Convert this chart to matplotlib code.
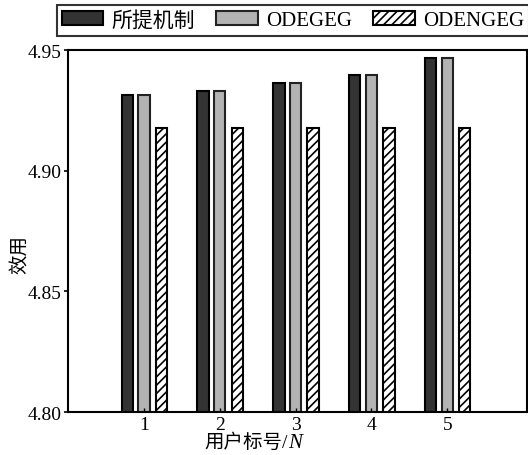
import numpy as np
import matplotlib
matplotlib.use("Agg")
import matplotlib.pyplot as plt

plt.rcParams['font.family'] = ['Liberation Serif', 'Noto Sans CJK SC']
plt.rcParams['hatch.linewidth'] = 1.2

users = [1, 2, 3, 4, 5]
proposed = [4.9315, 4.9329, 4.9364, 4.9398, 4.9466]
odegeg = [4.9315, 4.9329, 4.9364, 4.9398, 4.9466]
odengeg = [4.9176, 4.9176, 4.9176, 4.9176, 4.9176]
series_names = ['所提机制', 'ODEGEG', 'ODENGEG']

fig = plt.figure(figsize=(5.28, 4.56), dpi=100)
ax = fig.add_axes([0.129, 0.094, 0.869, 0.794])

x = np.array(users)
w = 0.15
ax.bar(x - 0.22, proposed, w, color='#333333', edgecolor='black', linewidth=1.5, label=series_names[0])
ax.bar(x, odegeg, w, color='#b3b3b3', edgecolor='#222222', linewidth=1.5, label=series_names[1])
ax.bar(x + 0.23, odengeg, w, color='white', edgecolor='black', linewidth=1.5, hatch='////', label=series_names[2])

ax.set_ylim(4.80, 4.95)
ax.set_xlim(0, 6.05)
ax.set_yticks([4.80, 4.85, 4.90, 4.95])
ax.set_yticklabels(['4.80', '4.85', '4.90', '4.95'])
ax.set_xticks(users)
ax.tick_params(axis='y', direction='out', length=3, width=1.2, labelsize=14, pad=2)
ax.tick_params(axis='x', direction='in', length=3, width=1.0, labelsize=14, pad=3)
for s in ax.spines.values():
    s.set_linewidth(1.5)

# y label placed directly in figure coords
fig.text(20 / 528, 0.441, '效用', fontsize=14, rotation=90, ha='center', va='center')

# x label: CJK text plus italic N
fig.text(0.545, 0.0285, '用户标号/', fontsize=14, ha='right', va='center')
fig.text(0.545, 0.0285, 'N', fontsize=15, style='italic', ha='left', va='center',
         family='Liberation Serif')

leg = ax.legend(loc='lower center', bbox_to_anchor=(0.49, 1.04), ncol=3, fontsize=15,
                frameon=True, fancybox=False, edgecolor='black', handlelength=2.0,
                handleheight=0.6, columnspacing=1.0, handletextpad=0.4,
                borderpad=0.25, borderaxespad=0)
leg.get_frame().set_linewidth(1.5)

fig.savefig('out.png', dpi=100)
